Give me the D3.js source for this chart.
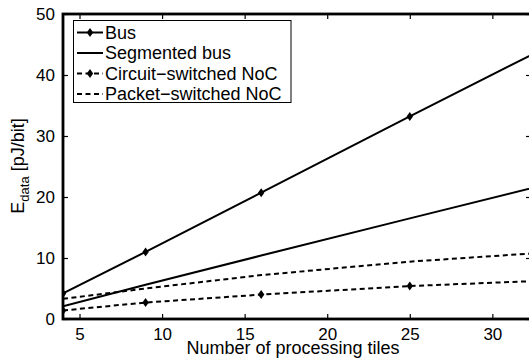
<!DOCTYPE html>
<html>
<head>
<meta charset="utf-8">
<script src="https://cdn.jsdelivr.net/npm/d3@7"></script>
<style>
  body { margin: 0; background: #fff; overflow: hidden; }
  text { font-family: "Liberation Sans", Arial, sans-serif; fill: #000; }
</style>
</head>
<body>
<script>
'use strict';

// number of tiles (squares: 2x2 ... 6x6)
let tiles = [4, 9, 16, 25, 36];
let busData = [4.2, 11.0, 20.7, 33.2, 48.3];
let segBusData = [2.1, 5.6, 10.4, 16.5, 23.9];
let circuitData = [1.4, 2.7, 4.0, 5.4, 6.6];
let packetData = [3.3, 5.0, 7.2, 9.4, 11.4];
let xTicks = [5, 10, 15, 20, 25, 30];
let yTicks = [0, 10, 20, 30, 40, 50];
let seriesNames = ['Bus', 'Segmented bus', 'Circuit\u2212switched NoC', 'Packet\u2212switched NoC'];

(function () {
  let width = 529, height = 360;
  let plot = { left: 63, top: 14, right: 531, bottom: 319 };

  let svg = d3.select('body')
    .append('svg')
    .attr('width', width)
    .attr('height', height);

  let xScale = d3.scaleLinear()
    .domain([4, 32.34])
    .range([plot.left, plot.right]);
  let yScale = d3.scaleLinear()
    .domain([0, 50])
    .range([plot.bottom, plot.top]);

  svg.append('clipPath')
    .attr('id', 'clip')
    .append('rect')
    .attr('x', plot.left)
    .attr('y', plot.top)
    .attr('width', plot.right - plot.left)
    .attr('height', plot.bottom - plot.top);

  let series = [
    { name: seriesNames[0], values: busData, dash: null, marker: true },
    { name: seriesNames[1], values: segBusData, dash: null, marker: false },
    { name: seriesNames[2], values: circuitData, dash: '5,3.5', marker: true },
    { name: seriesNames[3], values: packetData, dash: '5,3.5', marker: false }
  ];

  let line = d3.line()
    .x((d, i) => xScale(tiles[i]))
    .y((d) => yScale(d));

  let diamond = 'M0,-4.5L3.2,0L0,4.5L-3.2,0Z';

  let g = svg.append('g').attr('clip-path', 'url(#clip)');
  series.forEach(function (s) {
    g.append('path')
      .datum(s.values)
      .attr('fill', 'none')
      .attr('stroke', '#000')
      .attr('stroke-width', 2)
      .attr('stroke-dasharray', s.dash)
      .attr('d', line);
    if (s.marker) {
      g.selectAll(null)
        .data(s.values)
        .enter()
        .append('path')
        .attr('d', diamond)
        .attr('transform', (d, i) => 'translate(' + xScale(tiles[i]) + ',' + yScale(d) + ')')
        .attr('fill', '#000');
    }
  });

  // axes (box with inward ticks on all sides)
  let tickLen = 5;
  let bottomAxis = d3.axisBottom(xScale).tickValues(xTicks).tickSizeInner(-tickLen).tickSizeOuter(0).tickPadding(9);
  let topAxis = d3.axisTop(xScale).tickValues(xTicks).tickSizeInner(-tickLen).tickSizeOuter(0).tickFormat('');
  let leftAxis = d3.axisLeft(yScale).tickValues(yTicks).tickSizeInner(-tickLen).tickSizeOuter(0).tickPadding(8);
  let rightAxis = d3.axisRight(yScale).tickValues(yTicks).tickSizeInner(-tickLen).tickSizeOuter(0).tickFormat('');

  function styleAxis(sel) {
    sel.select('.domain').remove();
    sel.selectAll('line').attr('stroke', '#000').attr('stroke-width', 1.2);
    sel.selectAll('text').style('font-size', '17px').attr('fill', '#000');
  }

  svg.append('g').attr('transform', 'translate(0,' + plot.bottom + ')').call(bottomAxis).call(styleAxis);
  svg.append('g').attr('transform', 'translate(0,' + plot.top + ')').call(topAxis).call(styleAxis);
  svg.append('g').attr('transform', 'translate(' + plot.left + ',0)').call(leftAxis).call(styleAxis);
  svg.append('g').attr('transform', 'translate(' + plot.right + ',0)').call(rightAxis).call(styleAxis);

  svg.append('rect')
    .attr('x', plot.left)
    .attr('y', plot.top)
    .attr('width', plot.right - plot.left)
    .attr('height', plot.bottom - plot.top)
    .attr('fill', 'none')
    .attr('stroke', '#000')
    .attr('stroke-width', 2.8);

  // legend
  let legend = svg.append('g');
  legend.append('rect')
    .attr('x', 73.5)
    .attr('y', 20.5)
    .attr('width', 217.5)
    .attr('height', 82)
    .attr('fill', '#fff')
    .attr('stroke', '#000')
    .attr('stroke-width', 1);

  series.forEach(function (s, i) {
    let cy = 32.5 + i * 20.5;
    legend.append('line')
      .attr('x1', 77)
      .attr('x2', 103)
      .attr('y1', cy)
      .attr('y2', cy)
      .attr('stroke', '#000')
      .attr('stroke-width', 2)
      .attr('stroke-dasharray', s.dash);
    if (s.marker) {
      legend.append('path')
        .attr('d', diamond)
        .attr('transform', 'translate(90,' + cy + ')')
        .attr('fill', '#000');
    }
    legend.append('text')
      .attr('x', 105)
      .attr('y', cy)
      .attr('dy', '0.35em')
      .style('font-size', '18px')
      .text(s.name);
  });

  // axis labels
  svg.append('text')
    .attr('x', 293)
    .attr('y', 354)
    .attr('text-anchor', 'middle')
    .style('font-size', '18px')
    .text('Number of processing tiles');

  let ylab = svg.append('text')
    .attr('transform', 'translate(24,166)rotate(-90)')
    .attr('text-anchor', 'middle')
    .style('font-size', '18px');
  ylab.append('tspan').text('E');
  ylab.append('tspan').attr('dy', 5).style('font-size', '13px').text('data');
  ylab.append('tspan').attr('dy', -5).text(' [pJ/bit]');
})();
</script>
</body>
</html>
